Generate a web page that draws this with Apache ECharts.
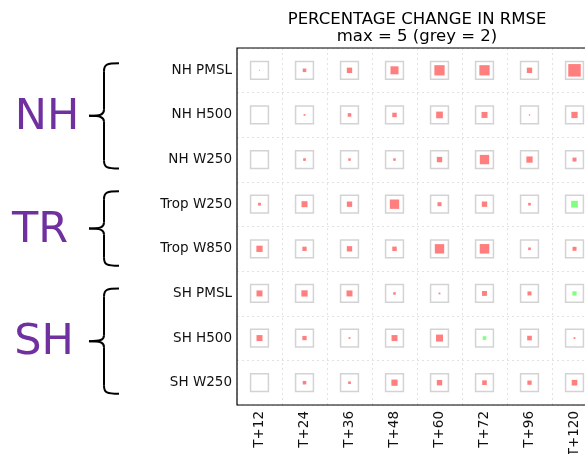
<!DOCTYPE html>
<html><head><meta charset="utf-8">
<script src="https://cdn.jsdelivr.net/npm/echarts@6/dist/echarts.min.js"></script>
<style>html,body{margin:0;padding:0;background:#fff}#c{width:585px;height:454px}</style>
</head><body><div id="c"></div>
<script>
// ---- data ----
const columns = ['T+12','T+24','T+36','T+48','T+60','T+72','T+96','T+120'];
const rows = ['NH PMSL','NH H500','NH W250','Trop W250','Trop W850','SH PMSL','SH H500','SH W250'];
const nhPmsl   = [0.1, 0.4, 0.6, 0.9, 1.15, 1.15, 0.6, 1.4];
const nhH500   = [0.0, 0.2, 0.4, 0.5, 0.75, 0.67, 0.15, 0.7];
const nhW250   = [0.0, 0.3, 0.28, 0.28, 0.6, 1.05, 0.7, 0.45];
const tropW250 = [0.32, 0.67, 0.6, 1.05, 0.45, 0.6, 0.3, -0.75];
const tropW850 = [0.7, 0.48, 0.6, 0.5, 1.05, 1.07, 0.3, 0.45];
const shPmsl   = [0.67, 0.7, 0.67, 0.28, 0.2, 0.55, 0.45, -0.48];
const shH500   = [0.67, 0.48, 0.2, 0.67, 0.78, -0.4, 0.52, 0.2];
const shW250   = [0.0, 0.4, 0.3, 0.7, 0.6, 0.52, 0.48, 0.63];
const rowValues = [nhPmsl, nhH500, nhW250, tropW250, tropW850, shPmsl, shH500, shW250];
const MAX = 5, GREY = 2;
const groups = [
  {name:'NH', first:0, last:2, cx:47, padTop:0.16, padBot:0.2},
  {name:'TR', first:3, last:4, cx:40, padTop:0.29, padBot:0.38},
  {name:'SH', first:5, last:7, cx:44, padTop:0.11, padBot:0.25}
];
const titleLines = ['PERCENTAGE CHANGE IN RMSE', 'max = 5 (grey = 2)'];

const data = [];
rowValues.forEach((arr, r) => arr.forEach((v, c) => data.push([c, r, v])));

const FONT = 'DejaVu Sans';
const chart = echarts.init(document.getElementById('c'), null, {renderer:'canvas'});
chart.setOption({
  animation:false,
  grid:{left:237, top:48, width:360, height:357, show:false, outerBoundsMode:'none', containLabel:false},
  xAxis:{type:'category', data:columns, boundaryGap:true,
    axisLine:{show:false}, axisTick:{show:false},
    axisLabel:{rotate:90, margin:6, fontSize:13.5, fontFamily:FONT, color:'#111', interval:0},
    splitLine:{show:true, interval:0, lineStyle:{color:'#e2e2e2', type:[2,3], width:1}}},
  yAxis:{type:'category', data:rows, inverse:true, boundaryGap:true,
    axisLine:{show:false}, axisTick:{show:false},
    axisLabel:{margin:5, fontSize:13.5, fontFamily:FONT, color:'#111', interval:0},
    splitLine:{show:true, interval:0, lineStyle:{color:'#e2e2e2', type:[2,3], width:1}}},
  series:[{
    type:'custom',
    data:data,
    renderItem:function(params, api){
      const c = api.coord([api.value(0), api.value(1)]);
      const s = api.size([1,1]);
      const cell = Math.min(s[0], s[1]);
      const g = GREY/MAX*cell;
      const v = api.value(2);
      const side = Math.abs(v)/MAX*cell;
      const children = [{type:'rect', shape:{x:c[0]-g/2, y:c[1]-g/2, width:g, height:g},
        style:{fill:null, stroke:'#d3d3d3', lineWidth:1.5}}];
      if (side > 0) children.push({type:'rect', shape:{x:c[0]-side/2, y:c[1]-side/2, width:side, height:side},
        style:{fill: v >= 0 ? '#ff7f7f' : '#80ff80'}});
      return {type:'group', children:children};
    }
  }]
});

function px(col, row){ return chart.convertToPixel({gridIndex:0}, [col, row]); }
const graphics = [];
const p0 = px(0,0), p1 = px(1,1);
const cellW = p1[0]-p0[0], cellH = p1[1]-p0[1];
const gridLeft = p0[0]-cellW/2, gridRight = gridLeft + cellW*columns.length;
const gridTop = p0[1]-cellH/2, gridBot = gridTop + cellH*rows.length;
const cx = (gridLeft+gridRight)/2;
graphics.push({type:'rect', z:100, shape:{x:gridLeft, y:gridTop, width:gridRight-gridLeft, height:gridBot-gridTop},
  style:{fill:null, stroke:'#000', lineWidth:1.2}});
titleLines.forEach((t,i)=>graphics.push({type:'text', x:cx, y:28+17*i,
  style:{text:t, fontSize:16.5, fontFamily:FONT, fill:'#000', textAlign:'center', textVerticalAlign:'bottom'}}));
groups.forEach(gp=>{
  const top = px(0,gp.first)[1] - gp.padTop*cellH;
  const bot = px(0,gp.last)[1] + gp.padBot*cellH;
  const mid = (top+bot)/2;
  const xr = 119, xv = 104, xt = 89;
  const st = {fill:null, stroke:'#000', lineWidth:2};
  graphics.push({type:'bezierCurve', shape:{x1:xr, y1:top, cpx1:xv+3, cpy1:top, cpx2:xv, cpy2:top+1, x2:xv, y2:top+8}, style:st});
  graphics.push({type:'line', shape:{x1:xv, y1:top+8, x2:xv, y2:mid-6}, style:st});
  graphics.push({type:'bezierCurve', shape:{x1:xv, y1:mid-6, cpx1:xv, cpy1:mid-1, cpx2:xv-4, cpy2:mid, x2:xt, y2:mid}, style:st});
  graphics.push({type:'bezierCurve', shape:{x1:xt, y1:mid, cpx1:xv-4, cpy1:mid, cpx2:xv, cpy2:mid+1, x2:xv, y2:mid+6}, style:st});
  graphics.push({type:'line', shape:{x1:xv, y1:mid+6, x2:xv, y2:bot-8}, style:st});
  graphics.push({type:'bezierCurve', shape:{x1:xv, y1:bot-8, cpx1:xv, cpy1:bot-1, cpx2:xv+3, cpy2:bot, x2:xr, y2:bot}, style:st});
  graphics.push({type:'text', x:gp.cx, y:mid+2, style:{text:gp.name, fontSize:43, fontFamily:FONT, fill:'#7030a0', textAlign:'center', textVerticalAlign:'middle'}});
});
chart.setOption({graphic:graphics});
</script></body></html>
